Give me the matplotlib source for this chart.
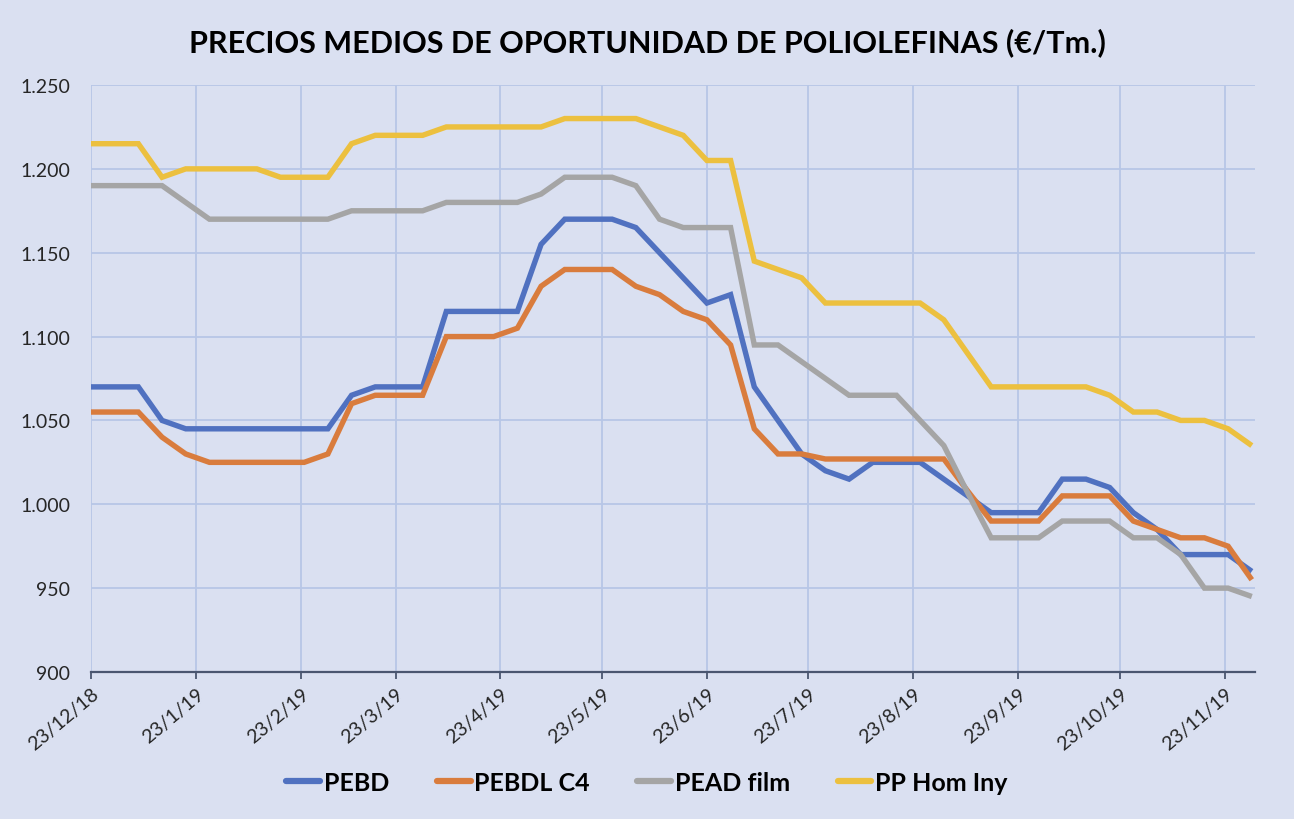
import matplotlib
matplotlib.use('Agg')
import matplotlib.pyplot as plt
import matplotlib.dates as mdates
import matplotlib.ticker as mticker
import pandas as pd

plt.rcParams['font.family'] = ['Lato', 'DejaVu Sans']

fechas = pd.date_range('2018-12-23', periods=50, freq='7D')

pebd = [1070, 1070, 1070, 1050, 1045, 1045, 1045, 1045, 1045, 1045,
        1045, 1065, 1070, 1070, 1070, 1115, 1115, 1115, 1115, 1155,
        1170, 1170, 1170, 1165, 1150, 1135, 1120, 1125, 1070, 1050,
        1030, 1020, 1015, 1025, 1025, 1025, 1015, 1005, 995, 995,
        995, 1015, 1015, 1010, 995, 985, 970, 970, 970, 960]
pebdl_c4 = [1055, 1055, 1055, 1040, 1030, 1025, 1025, 1025, 1025, 1025,
            1030, 1060, 1065, 1065, 1065, 1100, 1100, 1100, 1105, 1130,
            1140, 1140, 1140, 1130, 1125, 1115, 1110, 1095, 1045, 1030,
            1030, 1027, 1027, 1027, 1027, 1027, 1027, 1008, 990, 990,
            990, 1005, 1005, 1005, 990, 985, 980, 980, 975, 955]
pead_film = [1190, 1190, 1190, 1190, 1180, 1170, 1170, 1170, 1170, 1170,
             1170, 1175, 1175, 1175, 1175, 1180, 1180, 1180, 1180, 1185,
             1195, 1195, 1195, 1190, 1170, 1165, 1165, 1165, 1095, 1095,
             1085, 1075, 1065, 1065, 1065, 1050, 1035, 1007, 980, 980,
             980, 990, 990, 990, 980, 980, 970, 950, 950, 945]
pp_hom_iny = [1215, 1215, 1215, 1195, 1200, 1200, 1200, 1200, 1195, 1195,
              1195, 1215, 1220, 1220, 1220, 1225, 1225, 1225, 1225, 1225,
              1230, 1230, 1230, 1230, 1225, 1220, 1205, 1205, 1145, 1140,
              1135, 1120, 1120, 1120, 1120, 1120, 1110, 1090, 1070, 1070,
              1070, 1070, 1070, 1065, 1055, 1055, 1050, 1050, 1045, 1035]

series = [('PEBD', pebd, '#5071C0'),
          ('PEBDL C4', pebdl_c4, '#D97C3D'),
          ('PEAD film', pead_film, '#A5A5A5'),
          ('PP Hom Iny', pp_hom_iny, '#ECC03F')]

bg = '#DAE0F1'
grid = '#B7C6E6'

fig = plt.figure(figsize=(12.94, 8.2), dpi=100, facecolor=bg)
ax = fig.add_axes([0.0703, 0.1793, 0.8997, 0.7158], facecolor=bg)

for name, vals, col in series:
    ax.plot(fechas, vals, color=col, lw=3.9, label=name,
            solid_joinstyle='miter', solid_capstyle='butt')

ax.set_ylim(900, 1250)
ax.set_xlim(fechas[0], fechas[-1] + pd.Timedelta(days=1))
ax.yaxis.set_major_locator(mticker.MultipleLocator(50))
ax.yaxis.set_major_formatter(mticker.FuncFormatter(lambda v, p: f'{v:,.0f}'.replace(',', '.')))

ax.xaxis.set_major_locator(mdates.MonthLocator(bymonthday=23))
ax.xaxis.set_major_formatter(mticker.FuncFormatter(
    lambda v, p: (lambda d: f'{d.day}/{d.month}/{d.strftime("%y")}')(mdates.num2date(v))))

ax.grid(True, color=grid, lw=1.3)
ax.set_axisbelow(True)
for s in ['top', 'right', 'left']:
    ax.spines[s].set_visible(False)
ax.spines['bottom'].set_color('#4A5670')
ax.spines['bottom'].set_linewidth(1.6)
ax.tick_params(axis='y', length=0, pad=15, labelsize=14, labelcolor='#262626')
ax.tick_params(axis='x', length=5, width=1.3, color='#4A5670', pad=4,
               labelsize=14, labelcolor='#262626')
plt.setp(ax.get_xticklabels(), rotation=40, ha='right', rotation_mode='anchor')

fig.text(0.5, 0.948, 'PRECIOS MEDIOS DE OPORTUNIDAD DE POLIOLEFINAS (€/Tm.)',
         ha='center', va='center', fontsize=22, fontweight='bold', color='#000000')

leg = fig.legend(loc='center', bbox_to_anchor=(0.5, 0.045), ncol=4, frameon=False,
                 fontsize=18, handlelength=1.35, handletextpad=0.15, columnspacing=1.9)
for t in leg.get_texts():
    t.set_fontweight('bold')
for h in leg.get_lines():
    h.set_linewidth(4.5)
    h.set_solid_capstyle('round')

fig.savefig('out.png', dpi=100, facecolor=bg)
